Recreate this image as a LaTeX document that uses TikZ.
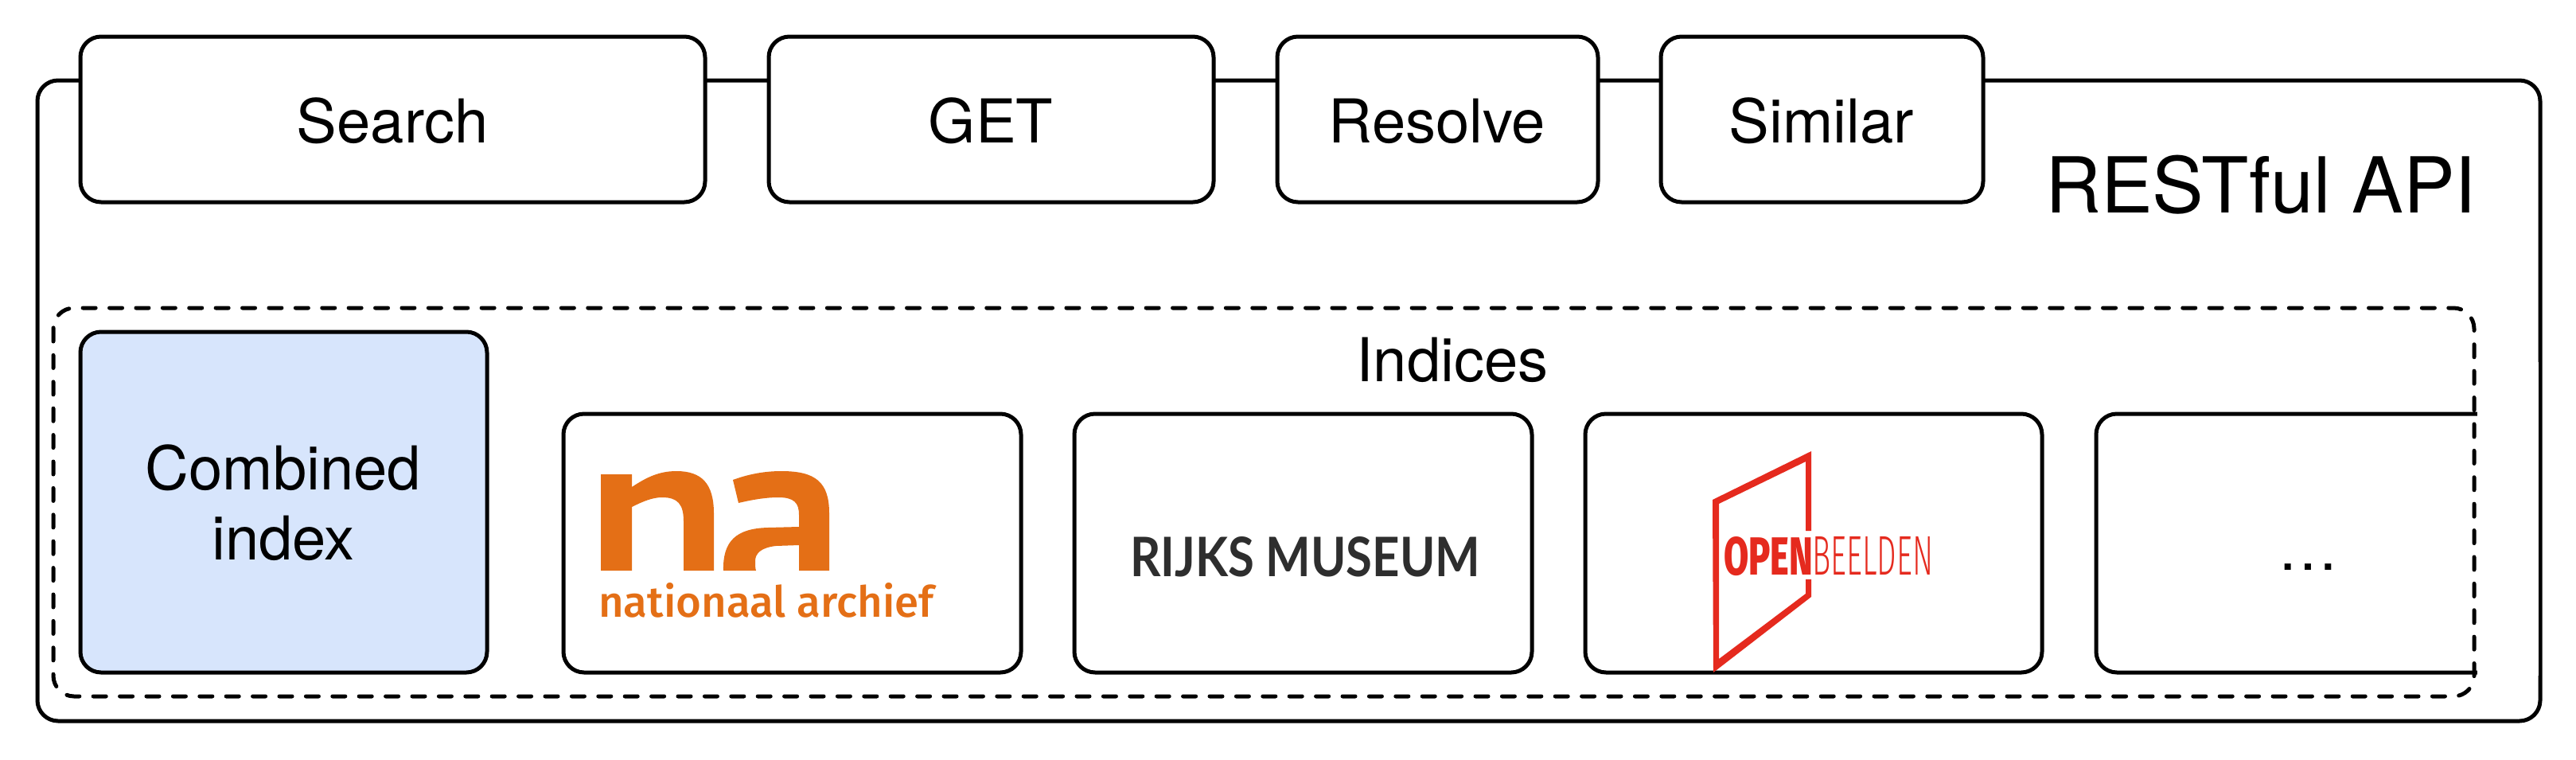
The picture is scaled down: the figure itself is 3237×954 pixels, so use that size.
\documentclass[tikz,border=0pt]{standalone}
\usepackage{fontspec}
\usepackage{graphicx}
\setmainfont{TeX Gyre Heros}
\newfontfamily\logosans{Fira Sans Medium}
\newfontfamily\logorijks{Lato}
\newfontfamily\logoheavy{Fira Sans ExtraBold}
\newfontfamily\logolight{Fira Sans Light}
\definecolor{naorange}{HTML}{E46F16}
\definecolor{obred}{HTML}{E52A1E}
\definecolor{rijksgrey}{HTML}{2E2E2E}
\definecolor{combined}{HTML}{D7E5FC}
\tikzset{
  box/.style={draw=black,line width=5pt,rounded corners=26pt,fill=white},
  lab/.style={font=\fontsize{76}{88}\selectfont,align=center,inner sep=0pt},
  logotext/.style={inner sep=0pt,anchor=base west},
}
\begin{document}
\begin{tikzpicture}[x=1pt,y=-1pt]
\useasboundingbox (0,0) rectangle (3237,954);
% outer frame
\draw[line width=5pt,rounded corners=26pt] (47,101) rectangle (3192,906);
\node[lab,font=\fontsize{97}{110}\selectfont,anchor=base] (rest) at (2841,267) {RESTful API};
% API boxes
\draw[box] (101,46) rectangle (886,254);
\node[lab,anchor=base] (search) at (493,179) {Search};
\draw[box] (966,46) rectangle (1525,254);
\node[lab,anchor=base] (get) at (1245,179) {GET};
\draw[box] (1605,46) rectangle (2008,254);
\node[lab,anchor=base] (resolve) at (1806,179) {Resolve};
\draw[box] (2087,46) rectangle (2492,254);
\node[lab,anchor=base] (similar) at (2289,179) {Similar};
% index boxes
\draw[box,fill=combined] (101,417) rectangle (612,845);
\node[lab,anchor=center] (combined) at (356,632) {Combined\\index};
\draw[box] (708,520) rectangle (1283,845);
\draw[box] (1350,520) rectangle (1925,845);
\draw[box] (1992,520) rectangle (2566,845);
\draw[box] (2634,520) rectangle (3180,845);
\fill[white] (3113,455) rectangle (3190,849);
\node[lab,anchor=base] (dots) at (2900,716) {…};
\node[lab,anchor=base] (indices) at (1825,479) {Indices};
\draw[line width=5pt,dash pattern=on 16pt off 17.4pt,line cap=round,rounded corners=26pt] (67,387) rectangle (3109,875);
% na logo
\fill[naorange] (755,596) -- (794,596) -- (794,612) .. controls (812,600) and (828,592) .. (850,592)
  .. controls (882,592) and (897,608) .. (897,645) -- (897,717) -- (859,717) -- (859,655)
  .. controls (859,634) and (852,625) .. (832,625) .. controls (820,625) and (808,630) .. (794,637)
  -- (794,717) -- (755,717) -- cycle;
\fill[naorange] (921,603) .. controls (940,596) and (960,592) .. (982,592)
  .. controls (1025,592) and (1042,606) .. (1042,645) -- (1042,717) -- (1004,717) -- (1004,685)
  -- (975,686) .. controls (957,688) and (949,695) .. (949,705) .. controls (949,710) and (949,714) .. (950,717)
  -- (909,717) .. controls (908,680) and (925,664) .. (965,663) -- (1004,662) -- (1004,647)
  .. controls (1004,632) and (998,625) .. (978,625) .. controls (962,625) and (945,628) .. (928,632) -- cycle;
\node[logotext,text=naorange] (natext) at (752,775) {\resizebox{421pt}{43pt}{\logosans nationaal archief}};
% rijks logo
\node[logotext,text=rijksgrey] (rijks) at (1420,724) {\resizebox{440pt}{50pt}{\logorijks\bfseries RIJKS MUSEUM}};
% openbeelden logo
\fill[obred] (2152,628) -- (2276,567) -- (2276,667) -- (2269,667) -- (2269,580) -- (2160,633) -- (2160,828)
  -- (2269,746) -- (2269,728) -- (2276,728) -- (2276,750) -- (2153,845) -- cycle;
\node[logotext,text=obred] (obopen) at (2166,722) {\resizebox{112pt}{48pt}{\logoheavy OPEN}};
\node[logotext,text=obred] (obbeeld) at (2277,722) {\resizebox{152pt}{48pt}{\logolight BEELDEN}};
\end{tikzpicture}
\end{document}
